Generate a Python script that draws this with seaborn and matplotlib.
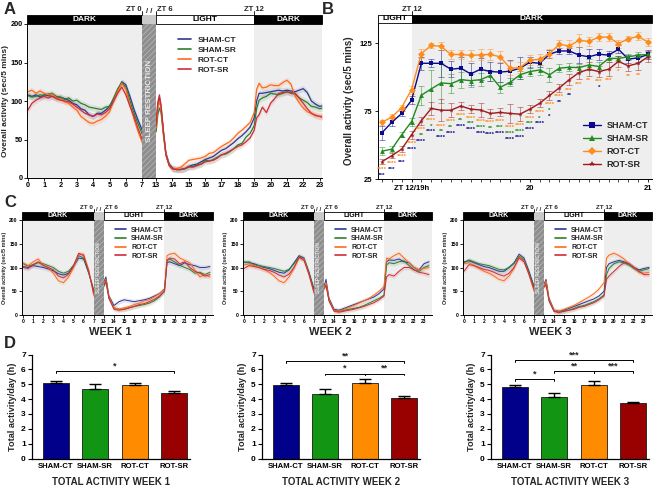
import matplotlib
matplotlib.use("Agg")
import numpy as np
import pandas as pd
import matplotlib.pyplot as plt
import seaborn as sns
from matplotlib.patches import Rectangle
from matplotlib.lines import Line2D

sns.set_theme(style="ticks")
plt.rcParams['font.family'] = ['Liberation Sans', 'DejaVu Sans']
plt.rcParams['font.weight'] = 'bold'
plt.rcParams['axes.labelweight'] = 'bold'
plt.rcParams['axes.edgecolor'] = 'black'
plt.rcParams['xtick.color'] = 'black'
plt.rcParams['ytick.color'] = 'black'
plt.rcParams['hatch.linewidth'] = 0.6

groups = ["SHAM-CT", "SHAM-SR", "ROT-CT", "ROT-SR"]

# ---------------- Panel A data (mean activity, sec/5 min) ----------------
a_hours_pre = [0, 0.25, 0.5, 0.75, 1, 1.25, 1.5, 1.75, 2, 2.25, 2.5, 2.75, 3, 3.25, 3.5,
               3.75, 4, 4.25, 4.5, 4.75, 5, 5.25, 5.5, 5.75, 6, 6.25, 6.5, 6.75, 7]
a_hours_post = [13.0, 13.1, 13.2, 13.3, 13.45, 13.6, 13.8, 14.0, 14.25, 14.5, 14.75, 15.0,
                15.25, 15.5, 15.75, 16.0, 16.25, 16.5, 16.75, 17.0, 17.25, 17.5, 17.75, 18.0,
                18.25, 18.5, 18.75, 19.0, 19.15, 19.3, 19.5, 19.75, 20.0, 20.25, 20.5, 20.75,
                21.0, 21.25, 21.5, 21.75, 22.0, 22.25, 22.5, 22.75, 23.0, 23.25, 23.5]
a_pre = {
    "SHAM-CT": [108, 106, 108, 105, 108, 107, 106, 104, 105, 103, 101, 97, 95, 90, 88, 82, 80, 84, 84, 88, 93, 102, 114, 125, 121, 106, 89, 75, 62],
    "SHAM-SR": [107, 105, 106, 108, 107, 109, 110, 106, 105, 102, 104, 100, 101, 97, 95, 92, 91, 90, 89, 92, 93, 104, 116, 124, 118, 100, 84, 70, 57],
    "ROT-CT":  [112, 114, 110, 113, 110, 108, 109, 104, 103, 99, 97, 92, 88, 80, 76, 72, 71, 74, 76, 80, 86, 100, 113, 123, 115, 95, 76, 60, 46],
    "ROT-SR":  [88, 97, 101, 104, 106, 104, 106, 103, 101, 100, 99, 96, 92, 88, 84, 82, 80, 83, 82, 85, 90, 100, 110, 118, 108, 93, 80, 64, 50],
}
a_post = {
    "SHAM-CT": [70, 95, 104, 92, 60, 32, 18, 13, 11, 11, 12, 15, 17, 18, 21, 24, 26, 28, 32, 36, 38, 42, 46, 51, 55, 60, 66, 78, 100, 110, 110, 111, 112, 113, 114, 113, 114, 113, 112, 114, 116, 111, 100, 96, 93, 94, 95],
    "SHAM-SR": [60, 82, 91, 85, 55, 30, 17, 12, 11, 11, 12, 14, 15, 17, 18, 23, 22, 24, 27, 30, 31, 34, 38, 43, 45, 53, 58, 68, 90, 101, 104, 106, 110, 109, 108, 110, 112, 110, 109, 104, 101, 98, 93, 92, 90, 91, 92],
    "ROT-CT":  [65, 90, 100, 90, 58, 30, 16, 12, 12, 14, 18, 23, 24, 25, 26, 28, 32, 33, 37, 41, 44, 47, 52, 58, 62, 67, 72, 85, 115, 123, 117, 118, 121, 120, 120, 124, 127, 122, 106, 98, 91, 86, 84, 82, 80, 81, 82],
    "ROT-SR":  [68, 98, 108, 95, 60, 30, 16, 12, 11, 11, 12, 15, 14, 16, 18, 21, 22, 23, 26, 30, 32, 35, 38, 41, 43, 47, 52, 62, 78, 82, 92, 85, 97, 103, 110, 111, 112, 111, 110, 104, 97, 90, 84, 81, 80, 78, 78],
}
a_sem = 4

# ---------------- Panel B data ----------------
b_minutes = list(range(45, 181, 5))  # minutes after 18:00
b_mean = {
    "SHAM-CT": [59.1, 66.8, 73.3, 83.0, 110.3, 110.3, 110.3, 105.9, 106.7, 102.5, 105.9, 104.2, 103.8, 104.5, 106.7, 111.0, 110.3, 117.0, 119.4, 119.4, 116.3, 115.1, 117.0, 116.3, 120.6, 113.4, 114.3, 116.8],
    "SHAM-SR": [45.5, 47.0, 57.6, 67.3, 86.8, 91.4, 95.8, 95.3, 98.2, 97.5, 98.2, 101.3, 92.6, 96.2, 101.8, 104.2, 105.4, 101.8, 106.7, 107.4, 107.1, 109.1, 107.9, 113.9, 113.9, 115.1, 116.3, 116.8],
    "ROT-CT":  [66.8, 70.6, 77.7, 90.9, 117.5, 123.5, 122.8, 116.8, 116.8, 116.1, 116.6, 116.8, 115.1, 106.7, 107.1, 112.7, 113.2, 117.5, 124.3, 123.1, 127.2, 126.4, 129.6, 129.6, 124.8, 128.4, 130.1, 125.9],
    "ROT-SR":  [37.8, 42.2, 47.0, 57.6, 68.0, 77.0, 75.7, 75.7, 78.8, 76.5, 75.9, 73.3, 74.1, 73.3, 72.8, 76.5, 80.8, 86.6, 92.2, 98.2, 103.5, 105.9, 104.2, 105.9, 111.7, 108.4, 110.3, 115.1],
}
b_sem = {
    "SHAM-CT": [5, 3, 2, 3, 5, 3, 10, 6, 8, 8, 8, 7, 7, 8, 8, 4, 3, 3, 2, 2, 6, 6, 4, 3, 3, 3, 3, 3],
    "SHAM-SR": [3, 2, 2, 3, 7, 14, 15, 7, 6, 5, 5, 4, 4, 3, 3, 3, 4, 5, 3, 3, 3, 4, 3, 3, 2, 2, 2, 2],
    "ROT-CT":  [2, 2, 2, 3, 3, 2, 3, 3, 3, 4, 4, 4, 4, 5, 4, 4, 4, 3, 3, 4, 5, 3, 3, 3, 3, 2, 3, 3],
    "ROT-SR":  [2, 2, 2, 3, 3, 5, 8, 5, 3, 3, 5, 3, 3, 7, 5, 3, 3, 3, 3, 4, 5, 5, 4, 5, 4, 4, 5, 4],
}
b_sig = {
    "ROT-CT":  ["****"] * 19 + ["***", "***", "**", "***", "***", "*", "**", "**", ""],
    "SHAM-SR": ["", "", "", "", "**", "*", "**", "**", "**", "***", "****", "**", "***", "****", "****", "***", "*", "*", "", "", "", "", "", "", "", "", "", ""],
    "SHAM-CT": ["***", "***", "***"] + ["****"] * 14 + ["*", "**", "**", "", "", "*", "", "", "", "", ""],
}

# ---------------- Panel C data (weekly actograms) ----------------
c_hours_pre = [0, 0.5, 1, 1.5, 2, 2.5, 3, 3.5, 4, 4.5, 5, 5.5, 6, 6.5, 7]
c_hours_post = [13, 13.2, 13.5, 14, 14.5, 15, 15.5, 16, 16.5, 17, 17.5, 18, 18.5, 19,
                19.25, 19.5, 20, 20.5, 21, 21.5, 22, 22.5, 23, 23.5]
c_pre = {
    1: {"SHAM-CT": [102, 100, 104, 102, 100, 97, 93, 87, 84, 88, 102, 120, 118, 88, 52],
        "SHAM-SR": [108, 103, 106, 110, 108, 104, 100, 92, 88, 92, 105, 125, 120, 90, 50],
        "ROT-CT":  [110, 104, 112, 118, 105, 100, 88, 72, 68, 80, 100, 128, 128, 95, 40],
        "ROT-SR":  [100, 98, 106, 112, 104, 100, 95, 82, 78, 86, 104, 130, 125, 92, 45]},
    2: {"SHAM-CT": [112, 110, 108, 104, 100, 98, 94, 90, 88, 95, 110, 125, 120, 90, 55],
        "SHAM-SR": [110, 112, 106, 104, 102, 100, 98, 95, 92, 96, 108, 122, 118, 88, 52],
        "ROT-CT":  [105, 108, 104, 100, 96, 90, 82, 72, 68, 80, 98, 120, 118, 85, 45],
        "ROT-SR":  [98, 104, 102, 100, 96, 94, 90, 84, 80, 86, 100, 122, 115, 85, 48]},
    3: {"SHAM-CT": [112, 114, 110, 106, 102, 100, 96, 92, 92, 100, 110, 128, 120, 92, 60],
        "SHAM-SR": [110, 116, 112, 108, 106, 104, 100, 96, 95, 100, 108, 124, 116, 88, 58],
        "ROT-CT":  [108, 110, 104, 98, 92, 88, 82, 75, 72, 82, 98, 122, 114, 84, 50],
        "ROT-SR":  [92, 106, 104, 100, 96, 94, 90, 85, 82, 88, 100, 120, 112, 86, 54]},
}
c_post = {
    1: {"SHAM-CT": [70, 80, 40, 20, 28, 32, 30, 28, 30, 32, 35, 40, 45, 55, 110, 112, 108, 104, 110, 106, 104, 100, 100, 102],
        "SHAM-SR": [60, 70, 35, 15, 12, 12, 15, 18, 20, 22, 25, 30, 38, 50, 115, 118, 112, 105, 100, 96, 88, 90, 85, 90],
        "ROT-CT":  [65, 75, 38, 15, 12, 15, 18, 22, 25, 30, 32, 38, 45, 55, 125, 128, 130, 120, 115, 110, 95, 80, 85, 80],
        "ROT-SR":  [62, 72, 35, 12, 10, 12, 15, 18, 22, 24, 28, 33, 40, 50, 115, 120, 118, 108, 112, 100, 92, 88, 82, 85]},
    2: {"SHAM-CT": [60, 75, 35, 12, 10, 14, 18, 22, 26, 30, 34, 38, 45, 55, 112, 116, 115, 118, 112, 110, 100, 95, 108, 112],
        "SHAM-SR": [55, 65, 30, 10, 8, 10, 12, 14, 16, 20, 25, 30, 35, 42, 105, 110, 108, 112, 114, 104, 95, 92, 100, 104],
        "ROT-CT":  [58, 68, 32, 10, 8, 12, 16, 20, 25, 30, 35, 42, 50, 60, 120, 118, 125, 130, 120, 110, 100, 95, 98, 100],
        "ROT-SR":  [55, 62, 30, 8, 6, 8, 10, 12, 15, 18, 22, 26, 32, 40, 80, 85, 82, 92, 100, 100, 95, 90, 88, 85]},
    3: {"SHAM-CT": [65, 75, 35, 10, 8, 10, 14, 18, 22, 26, 30, 34, 40, 50, 100, 108, 112, 115, 112, 108, 100, 95, 98, 100],
        "SHAM-SR": [60, 68, 30, 8, 6, 8, 10, 14, 18, 20, 24, 28, 34, 42, 85, 98, 108, 112, 110, 105, 98, 92, 95, 98],
        "ROT-CT":  [62, 72, 33, 10, 8, 12, 16, 20, 26, 32, 38, 45, 55, 68, 120, 126, 130, 125, 118, 108, 100, 90, 88, 90],
        "ROT-SR":  [58, 64, 30, 8, 5, 8, 10, 12, 16, 18, 22, 26, 32, 40, 75, 82, 92, 102, 110, 108, 100, 92, 85, 85]},
}
c_sem = 5

# ---------------- Panel D data (hours/day) ----------------
d_mean = {1: [5.05, 4.69, 4.93, 4.42], 2: [4.93, 4.37, 5.05, 4.04], 3: [4.80, 4.16, 4.98, 3.73]}
d_sem = {1: [0.14, 0.31, 0.17, 0.12], 2: [0.16, 0.30, 0.30, 0.15], 3: [0.18, 0.27, 0.24, 0.10]}
d_brackets = {
    1: [(0, 3, 5.87, "*")],
    2: [(0, 3, 6.55, "**"), (1, 2, 5.72, "*"), (2, 3, 5.72, "**")],
    3: [(0, 3, 6.64, "***"), (0, 1, 5.35, "*"), (1, 2, 5.86, "**"), (2, 3, 5.86, "***")],
}

# ---------------- styling ----------------
line_colors = {"SHAM-CT": "#2b3a92", "SHAM-SR": "#2f7f2f", "ROT-CT": "#ff6a1a", "ROT-SR": "#cf2d38"}
b_colors = {"SHAM-CT": "#0a0a8c", "SHAM-SR": "#1f8a1f", "ROT-CT": "#ff8c1a", "ROT-SR": "#9e1a1a"}
b_markers = {"SHAM-CT": "s", "SHAM-SR": "^", "ROT-CT": "D", "ROT-SR": "*"}
bar_colors = ["#00008b", "#129512", "#ff8c00", "#990000"]
BG = "#eeeeee"

W, H = 657, 488
fig = plt.figure(figsize=(W / 100, H / 100), dpi=100)


def rect(x0, y0, x1, y1):
    return [x0 / W, 1 - y1 / H, (x1 - x0) / W, (y1 - y0) / H]


def header(axh, xmin, xmax, sr0, sr1, light_end, fs, zfs, break_mark=True):
    axh.set_xlim(xmin, xmax)
    axh.set_ylim(0, 1)
    axh.axis("off")
    axh.add_patch(Rectangle((xmin, 0), sr0 - xmin, 1, facecolor="black", edgecolor="black", lw=0.6, clip_on=False))
    if sr0 > xmin:
        axh.text((xmin + sr0) / 2, 0.5, "DARK", color="white", ha="center", va="center", fontsize=fs, fontweight="bold")
    if sr1 > sr0:
        axh.add_patch(Rectangle((sr0, 0), sr1 - sr0, 1, facecolor="#c9c9c9", edgecolor="#c9c9c9", lw=0, clip_on=False))
    axh.add_patch(Rectangle((sr1, 0), light_end - sr1, 1, facecolor="white", edgecolor="black", lw=0.6, clip_on=False))
    axh.text((sr1 + light_end) / 2, 0.5, "LIGHT", color="black", ha="center", va="center", fontsize=fs, fontweight="bold")
    axh.add_patch(Rectangle((light_end, 0), xmax - light_end, 1, facecolor="black", edgecolor="black", lw=0.6, clip_on=False))
    axh.text((light_end + xmax) / 2, 0.5, "DARK", color="white", ha="center", va="center", fontsize=fs, fontweight="bold")
    if sr1 > sr0:
        axh.plot([sr0, sr0], [1, 1.45], color="black", lw=0.6, clip_on=False)
        axh.plot([sr1, sr1], [1, 1.45], color="black", lw=0.6, clip_on=False)
        axh.text(sr0 - 0.05, 1.25, "ZT 0", ha="right", va="bottom", fontsize=zfs, fontweight="bold")
        axh.text(sr1 + 0.08, 1.25, "ZT 6", ha="left", va="bottom", fontsize=zfs, fontweight="bold")
        if break_mark:
            axh.text((sr0 + sr1) / 2, 1.05, "/ /", ha="center", va="bottom", fontsize=zfs, fontweight="bold")
    axh.plot([light_end, light_end], [1, 1.45], color="black", lw=0.6, clip_on=False)
    axh.text(light_end, 1.25, "ZT 12", ha="center", va="bottom", fontsize=zfs, fontweight="bold")


def actogram(ax, axh, hours_pre, hours_post, pre, post, sem, shift, xmin, xmax,
             tick_fs, lab_fs, lw, sr_fs, leg_fs, head_fs, zt_fs, legend_anchor, labelpad):
    sr1 = 13 - shift
    light_end = 19 - shift
    rows = []
    for g in groups:
        for t, v in zip(hours_pre, pre[g]):
            rows.append((t, v, g, "pre"))
        for t, v in zip(hours_post, post[g]):
            rows.append((t - shift, v, g, "post"))
    df = pd.DataFrame(rows, columns=["pos", "value", "group", "seg"])
    ax.axvspan(xmin, 7, color=BG, lw=0, zorder=0)
    ax.axvspan(light_end, xmax, color=BG, lw=0, zorder=0)
    for g in groups:
        for s in ["pre", "post"]:
            ss = df[(df["group"] == g) & (df["seg"] == s)]
            ax.fill_between(ss["pos"], ss["value"] - sem, ss["value"] + sem, color=line_colors[g],
                            alpha=0.12, lw=0, zorder=1)
    sns.lineplot(data=df, x="pos", y="value", hue="group", hue_order=groups, units="seg",
                 estimator=None, palette=line_colors, lw=lw, legend=False, ax=ax, zorder=2)
    ax.add_patch(Rectangle((7, 0), sr1 - 7, 200, facecolor="#8e8e8e", edgecolor="#b4b4b4",
                           hatch="//////", lw=0, zorder=3))
    ax.text((7 + sr1) / 2, 100, "SLEEP RESTRICTION", rotation=90, ha="center", va="center",
            color="#e8e8e8", fontsize=sr_fs, fontweight="bold", zorder=4)
    ax.set_xlim(xmin, xmax)
    ax.set_ylim(0, 200)
    ticks = list(range(0, 8)) + [h - shift for h in range(13, 24)]
    labels = [str(h) for h in range(0, 8)] + [str(h) for h in range(13, 24)]
    ax.set_xticks(ticks)
    ax.set_xticklabels(labels, fontsize=tick_fs, fontweight="bold")
    ax.set_yticks([0, 50, 100, 150, 200])
    ax.set_yticklabels(["0", "50", "100", "150", "200"], fontsize=tick_fs, fontweight="bold")
    ax.tick_params(axis="both", length=2, width=0.6, pad=1)
    ax.set_xlabel("")
    ax.set_ylabel("Overall activity (sec/5 mins)", fontsize=lab_fs, fontweight="bold", labelpad=labelpad)
    sns.despine(ax=ax)
    for sp in ["left", "bottom"]:
        ax.spines[sp].set_linewidth(0.7)
    handles = [Line2D([0], [0], color=line_colors[g], lw=1.2) for g in groups]
    ax.legend(handles, groups, loc="upper left", bbox_to_anchor=legend_anchor, frameon=False,
              fontsize=leg_fs, handlelength=1.6, handletextpad=0.8, labelspacing=0.25, borderaxespad=0)
    header(axh, xmin, xmax, 7, sr1, light_end, head_fs, zt_fs)


# ---------------- Panel A ----------------
shiftA = 5.15
xminA, xmaxA = -0.05, 18.0
axA = fig.add_axes(rect(27, 24, 322, 178))
axAh = fig.add_axes(rect(27, 15, 322, 24))
actogram(axA, axAh, a_hours_pre, a_hours_post, a_pre, a_post, a_sem, shiftA, xminA, xmaxA,
         tick_fs=5.3, lab_fs=6, lw=0.9, sr_fs=5.8, leg_fs=6, head_fs=6, zt_fs=5.5,
         legend_anchor=(0.50, 0.94), labelpad=1)

# ---------------- Panel B ----------------
axB = fig.add_axes(rect(378, 23, 652, 179))
axBh = fig.add_axes(rect(378, 15, 652, 23))
xminB, xmaxB = 43, 182
axB.axvspan(60, xmaxB, color=BG, lw=0, zorder=0)
rowsB = []
for g in groups:
    for m, v, s in zip(b_minutes, b_mean[g], b_sem[g]):
        rowsB.append((m, v, s, g))
dfB = pd.DataFrame(rowsB, columns=["minute", "value", "err", "group"])
for g in groups:
    sub = dfB[dfB["group"] == g]
    axB.errorbar(sub["minute"], sub["value"], yerr=sub["err"], fmt="none", ecolor=b_colors[g],
                 elinewidth=0.6, capsize=2, capthick=0.6, alpha=0.55, zorder=2)
sns.lineplot(data=dfB, x="minute", y="value", hue="group", hue_order=groups, style="group",
             markers=b_markers, dashes=False, palette=b_colors, lw=1.0, markersize=3.5,
             markeredgewidth=0, legend=False, ax=axB, zorder=3)
# significance rows below ROT-SR
sig_order = ["ROT-CT", "SHAM-SR", "SHAM-CT"]
red = dfB[dfB["group"] == "ROT-SR"].reset_index(drop=True)
for i in range(len(b_minutes)):
    k = 0
    for g in sig_order:
        s = b_sig[g][i]
        if s:
            y = red["value"][i] - red["err"][i] - 3.6 - 4.3 * k
            axB.text(b_minutes[i], y, s, ha="center", va="center", fontsize=4.6,
                     color=b_colors[g], fontweight="bold", zorder=4)
            k += 1
axB.set_xlim(xminB, xmaxB)
axB.set_ylim(25, 140)
axB.set_xticks([60, 120, 180])
axB.set_xticklabels(["ZT 12/19h", "20", "21"], fontsize=5.5, fontweight="bold")
axB.set_xticks(b_minutes, minor=True)
axB.set_yticks([25, 75, 125])
axB.set_yticklabels(["25", "75", "125"], fontsize=5.5, fontweight="bold")
axB.tick_params(axis="both", which="major", length=2.5, width=0.6, pad=1.5)
axB.tick_params(axis="x", which="minor", length=2, width=0.5)
axB.set_xlabel("")
axB.set_ylabel("Overall activity (sec/5 mins)", fontsize=7, fontweight="bold", labelpad=4)
sns.despine(ax=axB)
for sp in ["left", "bottom"]:
    axB.spines[sp].set_linewidth(0.7)
handlesB = [Line2D([0], [0], color=b_colors[g], marker=b_markers[g], markersize=4, lw=1.0,
                   markeredgewidth=0) for g in groups]
axB.legend(handlesB, groups, loc="lower right", bbox_to_anchor=(1.0, 0.04), frameon=False,
           fontsize=6.5, handlelength=2.0, handletextpad=0.6, labelspacing=0.45, borderaxespad=0)
header(axBh, xminB, xmaxB, xminB, xminB, 60, 6, 5.5)

# ---------------- Panel C ----------------
shiftC = 5.0
xminC, xmaxC = -0.1, 18.8
c_pos = {1: (22, 213), 2: (243, 432), 3: (463, 652)}
for w in [1, 2, 3]:
    x0, x1 = c_pos[w]
    ax = fig.add_axes(rect(x0, 220, x1, 315))
    axh = fig.add_axes(rect(x0, 212, x1, 219.5))
    actogram(ax, axh, c_hours_pre, c_hours_post, c_pre[w], c_post[w], c_sem, shiftC, xminC, xmaxC,
             tick_fs=3.6, lab_fs=4, lw=0.7, sr_fs=3.5, leg_fs=5, head_fs=5, zt_fs=4.5,
             legend_anchor=(0.47, 0.96), labelpad=2)
    fig.text((x0 + 0.46 * (x1 - x0)) / W, 1 - 332 / H, f"WEEK {w}", ha="center", va="center",
             fontsize=8, fontweight="bold")

# ---------------- Panel D ----------------
d_pos = {1: (32, 190), 2: (262, 420), 3: (491, 649)}
for w in [1, 2, 3]:
    x0, x1 = d_pos[w]
    ax = fig.add_axes(rect(x0, 354.5, x1, 458.5))
    sns.barplot(x=groups, y=d_mean[w], hue=groups, palette=bar_colors, legend=False, ax=ax,
                width=0.66, edgecolor="#1a1a1a", linewidth=0.6, errorbar=None, saturation=1)
    ax.errorbar(range(4), d_mean[w], yerr=[np.zeros(4), d_sem[w]], fmt="none", ecolor="black",
                elinewidth=1.0, capsize=4.5, capthick=1.0, zorder=3)
    for a, b, y, s in d_brackets[w]:
        ax.plot([a, a, b, b], [y - 0.12, y, y, y - 0.12], color="black", lw=0.7, clip_on=False)
        ax.text((a + b) / 2, y + 0.05, s, ha="center", va="bottom", fontsize=6.5, fontweight="bold")
    ax.set_xlim(-0.6, 3.4)
    ax.set_ylim(0, 7)
    ax.set_yticks(range(0, 8))
    ax.set_yticklabels([str(v) for v in range(0, 8)], fontsize=6, fontweight="bold")
    ax.set_xticks(range(4))
    ax.set_xticklabels(groups, fontsize=5.6, fontweight="bold")
    ax.tick_params(axis="both", length=3, width=0.8, pad=1.5)
    ax.tick_params(axis="x", length=0, pad=3)
    ax.set_ylabel("Total activity/day (h)", fontsize=6.6, fontweight="bold", labelpad=3)
    ax.set_xlabel("")
    sns.despine(ax=ax)
    for sp in ["left", "bottom"]:
        ax.spines[sp].set_linewidth(0.9)
    fig.text((x0 + x1) / 2 / W, 1 - 482 / H, f"TOTAL ACTIVITY WEEK {w}", ha="center", va="center",
             fontsize=7, fontweight="bold")

# ---------------- panel letters ----------------
for letter, x, y in [("A", 4, 9), ("B", 322, 9), ("C", 4, 203), ("D", 4, 344)]:
    fig.text(x / W, 1 - y / H, letter, ha="left", va="center", fontsize=12, fontweight="bold")

fig.savefig("out.png", dpi=100)
